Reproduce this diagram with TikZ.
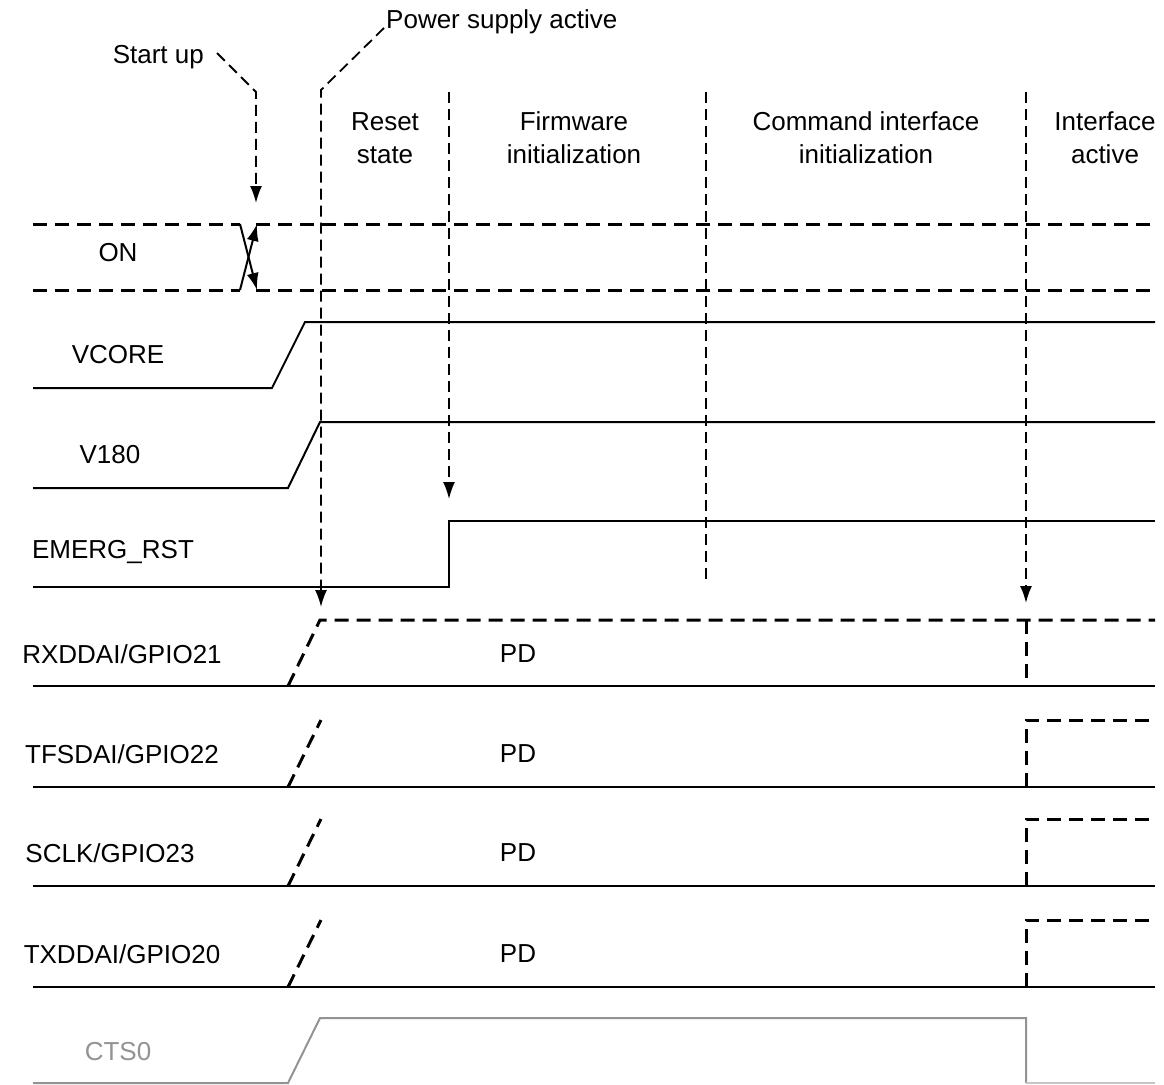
\documentclass[tikz,border=0pt]{standalone}
\usepackage{fontspec}
\setmainfont{Liberation Sans}
\usetikzlibrary{arrows.meta,positioning}

\begin{document}
\begin{tikzpicture}[x=1pt,y=-1pt,
  every node/.style={font=\fontsize{26}{33}\selectfont,align=center,inner sep=0pt},
  sig/.style={line width=2pt},
  busdash/.style={line width=3pt,dash pattern=on 14pt off 8pt},
  guide/.style={line width=1.8pt,dash pattern=on 11pt off 6pt},
  tip/.style={-{Latex[length=17pt,width=12pt]}},
  greysig/.style={line width=2pt,draw=gray!85}]
  \useasboundingbox (0,0) rectangle (1164,1084);

  % phase labels and markers
  \node[anchor=east] (startup) at (204,57) {Start up};
  \node[anchor=west] (power) at (386,22) {Power supply active};
  \node (reset) at (385,138) {Reset\\state};
  \node (firmware) at (574,138) {Firmware\\initialization};
  \node (command) at (866,138) {Command interface\\initialization};
  \node (active) at (1105,138) {Interface\\active};

  \coordinate (su) at (256,92);
  \coordinate (pa) at (321,90);
  \draw[guide,tip] (217,53) -- (su) -- (256,203);
  \draw[guide,tip] (384,28) -- (pa) -- (321,607);
  \draw[guide,tip] (449,92) -- (449,499);
  \draw[guide] (706,92) -- (706,582);
  \draw[guide,tip] (1026,92) -- (1026,603);

  % ON
  \node (on) at (118,253) {ON};
  \draw[busdash] (33,224) -- (240,224);
  \draw[busdash] (33,290) -- (240,290);
  \draw[busdash] (256,224) -- (1155,224);
  \draw[busdash] (256,290) -- (1155,290);
  \draw[sig,tip] (240,224) -- (257,290);
  \draw[sig,tip] (240,290) -- (257,224);

  % VCORE, V180, EMERG_RST
  \node (vcore) at (118,355) {VCORE};
  \draw[sig] (33,388) -- (272,388) -- (305,322) -- (1155,322);
  \node (v180) at (110,455) {V180};
  \draw[sig] (33,488) -- (288,488) -- (320,422) -- (1155,422);
  \node (emerg) at (113,552) {EMERG\_RST};
  \draw[sig] (33,587) -- (449,587) -- (449,521) -- (1155,521);

  % GPIO lines
  \node (rxd) at (122,654) {RXDDAI/GPIO21};
  \node (rxdpd) at (518,654) {PD};
  \draw[sig] (33,686) -- (1155,686);
  \draw[busdash] (288,686) -- (320,620) -- (1155,620);
  \draw[busdash] (1026,620) -- (1026,686);

  \foreach \y/\name/\lbl/\lx in {787/tfs/TFSDAI\slash GPIO22/122, 886/sclk/SCLK\slash GPIO23/110, 987/txd/TXDDAI\slash GPIO20/122} {
    \node (\name) at (\lx,\y-33) {\lbl};
    \node (\name pd) at (518,\y-33) {PD};
    \draw[sig] (33,\y) -- (1155,\y);
    \draw[busdash] (288,\y) -- (321,\y-67);
    \draw[busdash] (1026,\y) -- (1026,\y-67) -- (1155,\y-67);
  }

  % CTS0
  \node[text=gray!85] (cts) at (118,1052) {CTS0};
  \draw[greysig] (33,1083) -- (288,1083) -- (320,1018) -- (1026,1018) -- (1026,1083);
  \draw[greysig,draw=gray!45] (1026,1083) -- (1155,1083);
\end{tikzpicture}
\end{document}
